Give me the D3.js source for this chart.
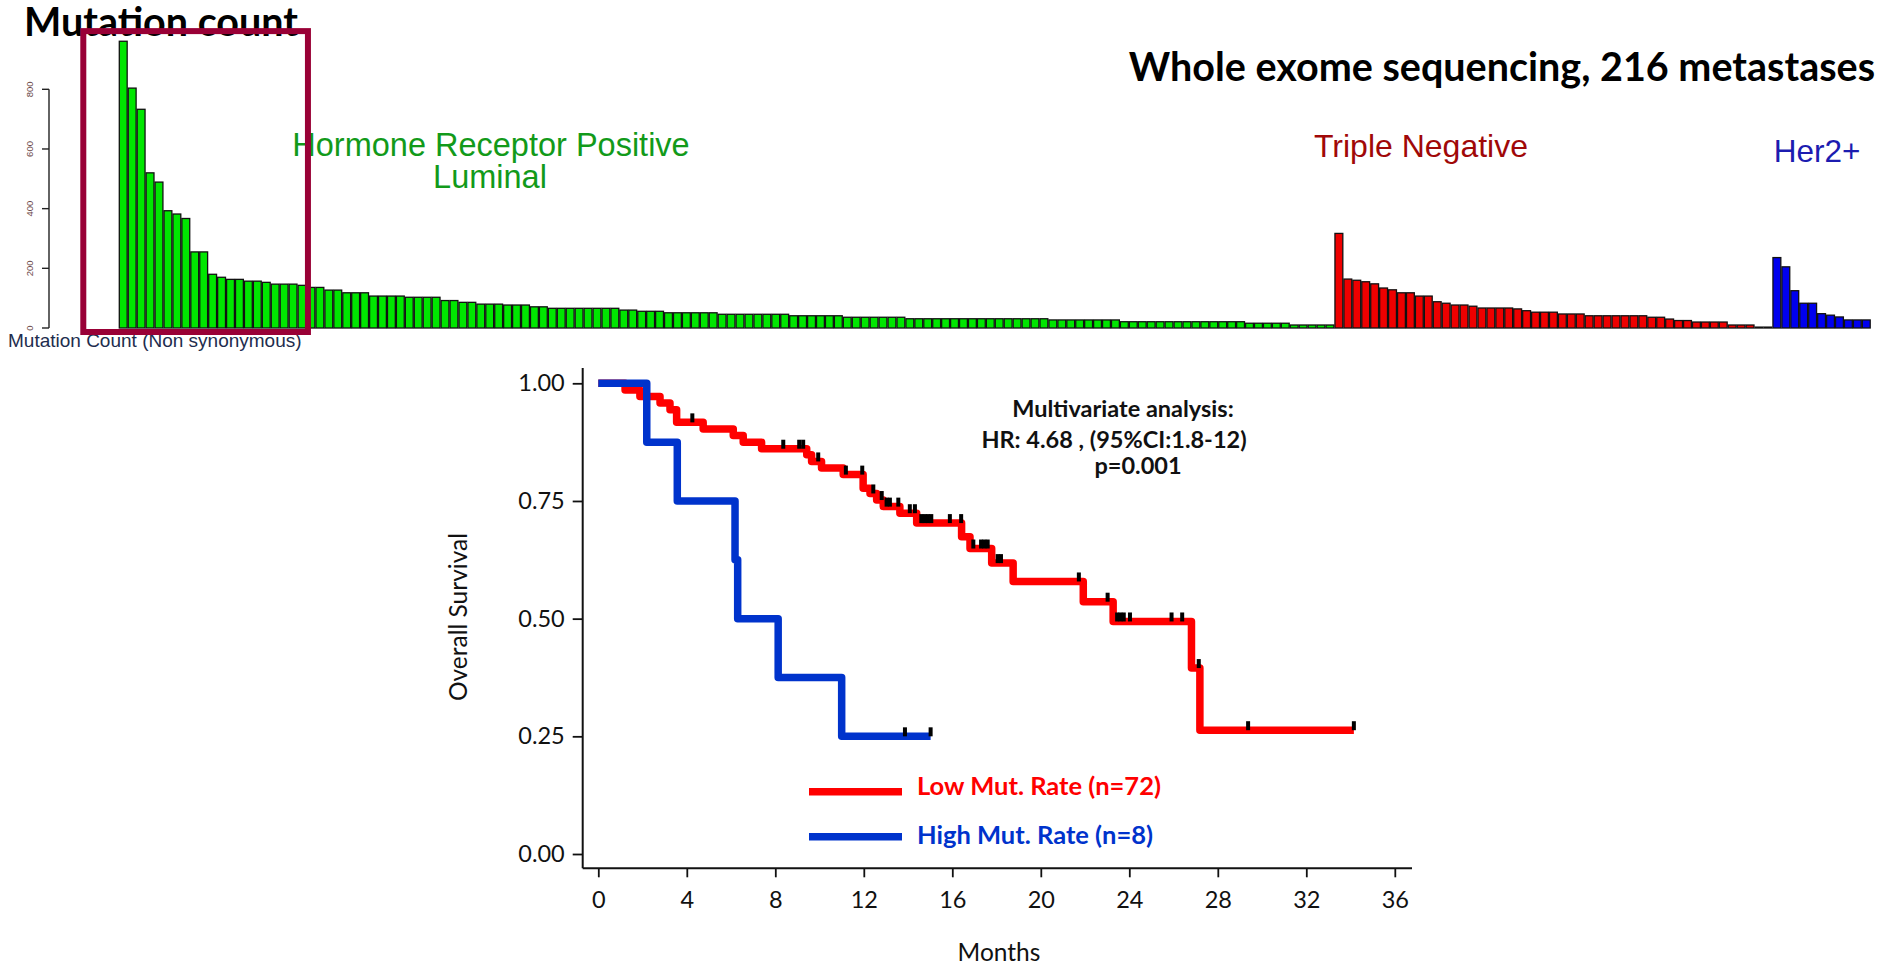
<!DOCTYPE html>
<html>
<head>
<meta charset="utf-8">
<script src="https://cdn.jsdelivr.net/npm/d3@7"></script>
<style>
  html, body { margin: 0; padding: 0; background: #fff; }
  svg { display: block; }
</style>
</head>
<body>
<svg id="fig" width="1887" height="964"></svg>
<script>
// ---- Mutation count per metastasis, sorted within subtype ----
const luminalCounts = [
  961, 804, 733, 520, 489, 393, 382, 367, 255, 255,
  180, 170, 163, 163, 157, 157, 153, 147, 147, 147, 143,
  136, 136, 127, 127, 118, 118, 118, 107, 107, 107, 107,
  103, 103, 103, 103, 92, 92, 86, 86, 80, 80, 80, 77, 77, 77,
  71, 71, 66, 66, 66, 66, 66, 66, 66, 66, 60, 60, 56, 56, 56,
  51, 51, 51, 51, 51, 51,
  46, 46, 46, 46, 46, 46, 46, 46,
  41, 41, 41, 41, 41, 41,
  36, 36, 36, 36, 36, 36, 36,
  31, 31, 31, 31, 31, 31, 31, 31, 31, 31, 31, 31, 31, 31, 31, 31,
  27, 27, 27, 27, 27, 27, 27, 27,
  21, 21, 21, 21, 21, 21, 21, 21, 21, 21, 21, 21, 21, 21,
  16, 16, 16, 16, 16,
  10, 10, 10, 10, 10
];
const tripleNegCounts = [
  317, 164, 160, 155, 148, 134, 128, 118, 118, 107, 107,
  88, 83, 77, 77, 73, 67, 67, 67, 67, 64, 58, 53, 53, 53,
  47, 47, 47, 41, 41, 41, 41, 41, 41, 41,
  36, 36, 30, 25, 25, 20, 20, 20, 20, 10, 10, 10, 3, 3
];
const her2Counts = [236, 205, 125, 83, 83, 48, 43, 37, 27, 27, 27];
const countTicks = [0, 200, 400, 600, 800];

// ---- Overall survival (Kaplan-Meier), months ----
const lowRateTimes = [0, 1.21, 1.88, 2.79, 3.24, 3.54, 4.74, 6.10, 6.55, 7.38, 9.42, 9.64,
  10.09, 11.07, 11.97, 12.28, 12.58, 12.88, 13.63, 14.39, 16.42, 16.80, 17.78, 18.75,
  21.92, 23.27, 26.81, 27.19];
const lowRateSurv = [1, 0.986, 0.972, 0.958, 0.944, 0.917, 0.903, 0.889, 0.875, 0.861, 0.848, 0.834,
  0.820, 0.806, 0.777, 0.766, 0.752, 0.738, 0.724, 0.703, 0.674, 0.649, 0.618, 0.579,
  0.536, 0.494, 0.395, 0.263];
const lowRateLastFollowUp = 34.15;
const lowRateCensored = [4.25, 8.36, 9.08, 9.26, 9.94, 11.19, 11.93, 12.43, 12.81, 13.03, 13.18,
  13.56, 14.08, 14.31, 14.6, 14.75, 14.9, 15.05, 15.89, 16.40, 16.95, 17.3, 17.45, 17.6,
  18.05, 18.2, 21.72, 23.02, 23.45, 23.6, 23.75, 24.03, 25.91, 26.39, 27.14, 29.37, 34.15];

const highRateTimes = [0, 2.19, 3.57, 6.18, 6.30, 8.13, 11.0];
const highRateSurv = [1, 0.875, 0.75, 0.625, 0.5, 0.375, 0.25];
const highRateLastFollowUp = 15.02;
const highRateCensored = [13.86, 15.02];

const survTicks = [0, 0.25, 0.5, 0.75, 1];
const monthTicks = [0, 4, 8, 12, 16, 20, 24, 28, 32, 36];

const legendLabels = ["Low Mut. Rate (n=72)", "High Mut. Rate (n=8)"];
const statLines = ["Multivariate analysis:", "HR: 4.68 , (95%CI:1.8-12)", "p=0.001"];

// ---------------------------------------------------------------
const svg = d3.select("#fig");
const sans = "'Liberation Sans', Arial, sans-serif";
const lato = "Lato, 'Open Sans', sans-serif";

const bars = [
  ...luminalCounts.map(v => ({ v, fill: "#00e600" })),
  ...tripleNegCounts.map(v => ({ v, fill: "#ee0000" })),
  ...her2Counts.map(v => ({ v, fill: "#0000ee" }))
];

const xBar = d3.scaleBand().domain(d3.range(bars.length)).range([119.3, 1870.2]).paddingInner(0.12);
const yBar = d3.scaleLinear().domain([0, 800]).range([328, 89.3]);

// headings
svg.append("text").attr("x", 24).attr("y", 36)
  .attr("font-family", lato).attr("font-weight", 700).attr("font-size", 39.5)
  .text("Mutation count");
svg.append("text").attr("x", 1875).attr("y", 81).attr("text-anchor", "end")
  .attr("font-family", lato).attr("font-weight", 700).attr("font-size", 39.5)
  .text("Whole exome sequencing, 216 metastases");

// subtype captions
const caption = (x, y, size, color, str) =>
  svg.append("text").attr("x", x).attr("y", y).attr("text-anchor", "middle")
    .attr("font-family", sans).attr("font-size", size).attr("fill", color).text(str);
caption(491, 156, 32.5, "#129a1a", "Hormone Receptor Positive");
caption(490, 188, 32.5, "#129a1a", "Luminal");
caption(1421, 157, 32, "#a00808", "Triple Negative");
caption(1817, 162, 31.5, "#1c1cb0", "Her2+");

// bars
svg.append("g").selectAll("rect").data(bars).join("rect")
  .attr("x", (d, i) => xBar(i))
  .attr("width", xBar.bandwidth())
  .attr("y", d => yBar(d.v))
  .attr("height", d => yBar(0) - yBar(d.v))
  .attr("fill", d => d.fill)
  .attr("stroke", "#111")
  .attr("stroke-width", 1.3);

// count axis
const countAxis = svg.append("g");
countAxis.append("line").attr("x1", 49).attr("x2", 49)
  .attr("y1", yBar(0)).attr("y2", yBar(800)).attr("stroke", "#222").attr("stroke-width", 1.4);
countAxis.selectAll("line.tk").data(countTicks).join("line").attr("class", "tk")
  .attr("x1", 42).attr("x2", 49).attr("y1", d => yBar(d)).attr("y2", d => yBar(d))
  .attr("stroke", "#222").attr("stroke-width", 1.4);
countAxis.selectAll("text").data(countTicks).join("text")
  .attr("transform", d => `translate(33,${yBar(d)}) rotate(-90)`)
  .attr("text-anchor", "middle")
  .attr("font-family", sans).attr("font-size", 9.5).attr("fill", "#6a4848")
  .text(d => d);
svg.append("text").attr("x", 8).attr("y", 347)
  .attr("font-family", sans).attr("font-size", 19).attr("fill", "#1e2d4e")
  .text("Mutation Count (Non synonymous)");

// highlight box around the hypermutated luminal cases
svg.append("rect")
  .attr("x", xBar(0) - 36).attr("y", yBar(995))
  .attr("width", xBar(20) + xBar.bandwidth() + 2 - (xBar(0) - 36))
  .attr("height", yBar(0) + 4 - yBar(995))
  .attr("fill", "none").attr("stroke", "#990036").attr("stroke-width", 6);

// ---------------- survival plot ----------------
const xM = d3.scaleLinear().domain([0, 36]).range([598.3, 1394.8]);
const yS = d3.scaleLinear().domain([0, 1]).range([854, 383.3]);
const axisX0 = 582.7, axisY0 = 868.3;

const yAxisG = svg.append("g").attr("transform", `translate(${axisX0},0)`)
  .call(d3.axisLeft(yS).tickValues(survTicks).tickFormat(d3.format(".2f")).tickSize(10).tickPadding(8));
const xAxisG = svg.append("g").attr("transform", `translate(0,${axisY0})`)
  .call(d3.axisBottom(xM).tickValues(monthTicks).tickSize(9));
[yAxisG, xAxisG].forEach(g => {
  g.select(".domain").remove();
  g.selectAll(".tick line").attr("stroke", "#111").attr("stroke-width", 1.8);
  g.selectAll(".tick text").attr("font-family", lato).attr("font-size", 23.5).attr("fill", "#111");
});
xAxisG.selectAll(".tick text").attr("dy", 0).attr("y", 40);
svg.append("line").attr("x1", axisX0).attr("x2", axisX0).attr("y1", 368).attr("y2", axisY0)
  .attr("stroke", "#111").attr("stroke-width", 2);
svg.append("line").attr("x1", axisX0).attr("x2", 1412).attr("y1", axisY0).attr("y2", axisY0)
  .attr("stroke", "#111").attr("stroke-width", 2);

svg.append("text").attr("transform", "translate(467,617) rotate(-90)").attr("text-anchor", "middle")
  .attr("font-family", lato).attr("font-size", 24.5).attr("fill", "#111").text("Overall Survival");
svg.append("text").attr("x", 999).attr("y", 961).attr("text-anchor", "middle")
  .attr("font-family", lato).attr("font-size", 24.5).attr("fill", "#111").text("Months");

// step curves
const stepLine = d3.line().x(d => xM(d[0])).y(d => yS(d[1])).curve(d3.curveStepAfter);
const curvePoints = (times, surv, last) =>
  times.map((t, i) => [t, surv[i]]).concat([[last, surv[surv.length - 1]]]);
const survAt = (times, surv, t) => surv[d3.bisectRight(times, t) - 1];

const groups = [
  { times: lowRateTimes, surv: lowRateSurv, last: lowRateLastFollowUp, cens: lowRateCensored, color: "#ff0000" },
  { times: highRateTimes, surv: highRateSurv, last: highRateLastFollowUp, cens: highRateCensored, color: "#0033cc" }
];
groups.forEach(g => {
  svg.append("path").attr("d", stepLine(curvePoints(g.times, g.surv, g.last)))
    .attr("fill", "none").attr("stroke", g.color).attr("stroke-width", 7.5)
    .attr("stroke-linejoin", "round");
});
groups.forEach(g => {
  svg.append("g").selectAll("rect").data(g.cens).join("rect")
    .attr("x", d => xM(d) - 2).attr("width", 4)
    .attr("y", d => yS(survAt(g.times, g.surv, d)) - 9).attr("height", 9)
    .attr("fill", "#000");
});

// statistics annotation
const statX = [1123, 1114, 1138];
const statY = [417, 448, 474];
statLines.forEach((s, i) => {
  svg.append("text").attr("x", statX[i]).attr("y", statY[i]).attr("text-anchor", "middle")
    .attr("font-family", lato).attr("font-weight", 700).attr("font-size", 23.5).attr("fill", "#111")
    .text(s);
});

// legend
const legendY = [791.7, 836.7];
groups.forEach((g, i) => {
  svg.append("line").attr("x1", 809).attr("x2", 902).attr("y1", legendY[i]).attr("y2", legendY[i])
    .attr("stroke", g.color).attr("stroke-width", 7.5);
  svg.append("text").attr("x", 917).attr("y", legendY[i] + 3.5 + i * 4)
    .attr("font-family", lato).attr("font-weight", 700).attr("font-size", 25.5).attr("fill", g.color)
    .text(legendLabels[i]);
});
</script>
</body>
</html>
